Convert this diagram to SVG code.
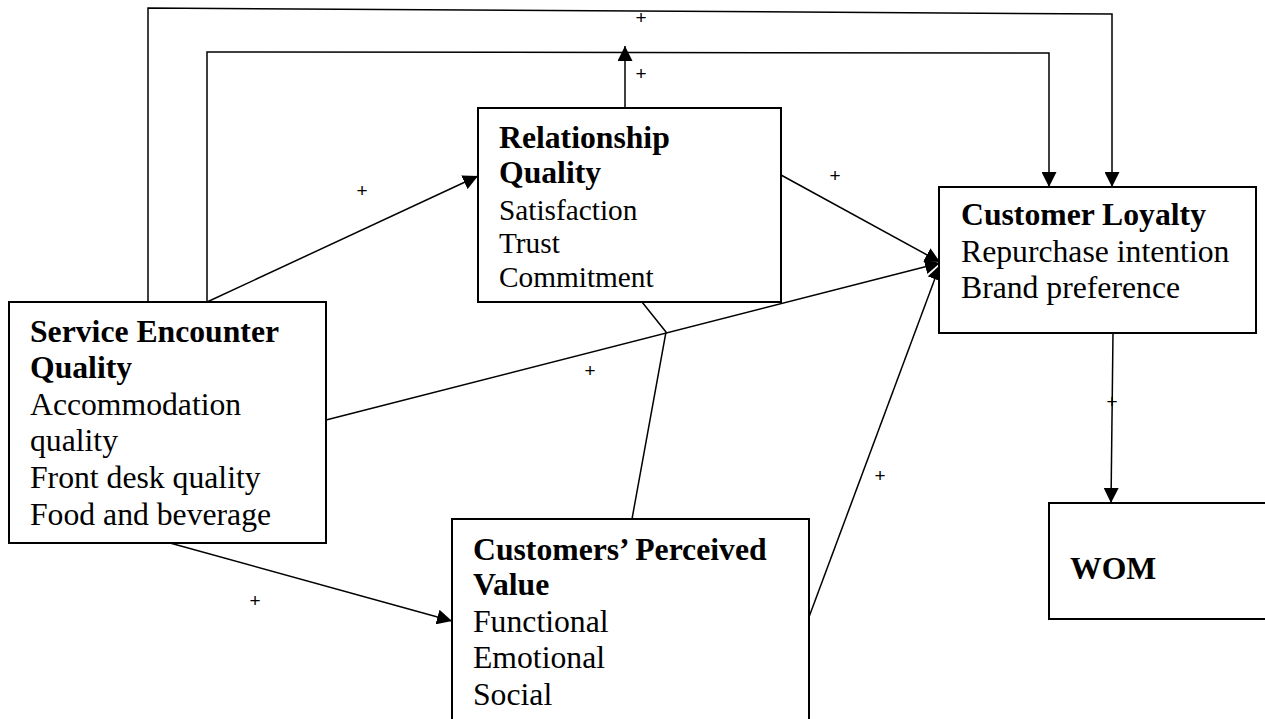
<svg xmlns="http://www.w3.org/2000/svg" width="1265" height="719" viewBox="0 0 1265 719">
<style>
.box{fill:#fff;stroke:#000;stroke-width:2}
.t{font-family:"Liberation Serif","Times New Roman",serif;font-size:31.7px;fill:#000}
.b{font-weight:bold}
.rs{font-size:29.3px}
.c{fill:none;stroke:#000;stroke-width:1.5}
.p{font-family:"Liberation Sans",Arial,sans-serif;font-size:19px;fill:#000;text-anchor:middle}
</style>
<defs>
<marker id="ah" markerUnits="userSpaceOnUse" markerWidth="15" markerHeight="15" refX="15" refY="7.5" orient="auto">
<path d="M0,0 L15,7.5 L0,15 z" fill="#000"/>
</marker>
</defs>
<g id="connectors">
<path class="c" d="M148,302 L148,8 L1112,14 L1112,187" marker-end="url(#ah)"/>
<path class="c" d="M207,302 L207,52 L1049,53 L1049,187" marker-end="url(#ah)"/>
<path class="c" d="M625,108 L625,46" marker-end="url(#ah)"/>
<path class="c" d="M207,302 L478,176" marker-end="url(#ah)"/>
<path class="c" d="M781,175 L940,262" marker-end="url(#ah)"/>
<path class="c" d="M326,420 L940,263" marker-end="url(#ah)"/>
<path class="c" d="M809,617 L940,265" marker-end="url(#ah)"/>
<path class="c" d="M170,543 L452,621" marker-end="url(#ah)"/>
<path class="c" d="M1113,333 L1111,503" marker-end="url(#ah)"/>
<path class="c" d="M630,287 L666,332 L632,519"/>
<text class="p" x="641" y="24">+</text>
<text class="p" x="641" y="80">+</text>
<text class="p" x="362" y="197">+</text>
<text class="p" x="835" y="182">+</text>
<text class="p" x="590" y="377">+</text>
<text class="p" x="880" y="482">+</text>
<text class="p" x="255" y="607">+</text>
<text class="p" x="1112" y="408">+</text>
</g>
<g id="service">
<rect class="box" x="9" y="302" width="317" height="241"/>
<text class="t b" x="30" y="342">Service Encounter</text>
<text class="t b" x="30" y="378">Quality</text>
<text class="t" x="30" y="415">Accommodation</text>
<text class="t" x="30" y="451">quality</text>
<text class="t" x="30" y="488">Front desk quality</text>
<text class="t" x="30" y="525">Food and beverage</text>
</g>
<g id="relationship">
<rect class="box" x="478" y="108" width="303" height="194"/>
<text class="t b" x="499" y="148">Relationship</text>
<text class="t b" x="499" y="183">Quality</text>
<text class="t rs" x="499" y="220">Satisfaction</text>
<text class="t rs" x="499" y="253">Trust</text>
<text class="t rs" x="499" y="287">Commitment</text>
</g>
<g id="loyalty">
<rect class="box" x="939" y="187" width="317" height="146"/>
<text class="t b" x="961" y="225">Customer Loyalty</text>
<text class="t" x="961" y="262">Repurchase intention</text>
<text class="t" x="961" y="298">Brand preference</text>
</g>
<g id="value">
<rect class="box" x="452" y="519" width="357" height="215"/>
<text class="t b" x="473" y="560">Customers’ Perceived</text>
<text class="t b" x="473" y="595">Value</text>
<text class="t" x="473" y="632">Functional</text>
<text class="t" x="473" y="668">Emotional</text>
<text class="t" x="473" y="705">Social</text>
</g>
<g id="wom">
<rect class="box" x="1049" y="503" width="230" height="116"/>
<text class="t b" x="1070" y="579">WOM</text>
</g>
</svg>
